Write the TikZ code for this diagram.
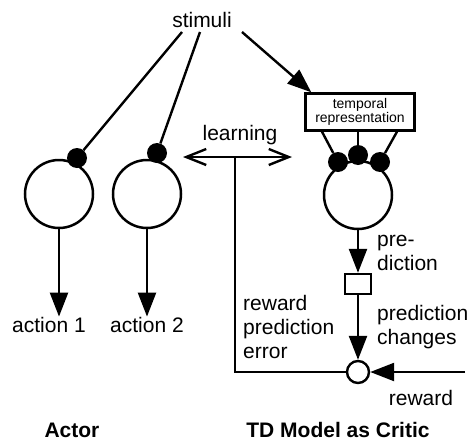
\documentclass[tikz,border=0pt]{standalone}
\usepackage{fontspec}
\setmainfont{Liberation Sans}
\usetikzlibrary{arrows.meta,positioning}
\tikzset{
  unit/.style={circle,draw,line width=2.5pt,fill=white,minimum size=68pt,inner sep=0pt},
  syn/.style={circle,fill=black,minimum size=20pt,inner sep=0pt},
  lbl/.style={inner sep=0pt,font=\fontsize{21}{24}\selectfont,align=left},
  head/.style={lbl,font=\fontsize{21}{24}\selectfont\bfseries},
  wire/.style={line width=2.4pt},
  feed/.style={wire,-{Triangle[length=24pt,width=18pt]}},
}

\begin{document}
\begin{tikzpicture}[x=1pt,y=-1pt]
  \fill[white] (0,0) rectangle (471,442);
  \useasboundingbox (0,0) rectangle (471,442);

  % inputs
  \node[lbl,anchor=base] (stim) at (202,27) {stimuli};
  \coordinate (s1) at (182,32);
  \coordinate (s2) at (200,32);
  \coordinate (s3) at (242,32);

  % actor units
  \node[unit] (a1) at (59,194) {};
  \node[unit] (a2) at (147,194) {};
  \node[syn] (d1) at (77,158) {};
  \node[syn] (d2) at (157,153) {};
  \draw[wire] (s1) -- (d1);
  \draw[wire] (s2) -- (d2);
  \node[lbl,anchor=base west] (act1) at (12,332) {action 1};
  \node[lbl,anchor=base west] (act2) at (110,332) {action 2};
  \draw[feed] (a1) -- (a1 |- act1.north);
  \draw[feed] (a2) -- (a2 |- act2.north);

  % critic
  \node[draw,line width=2.4pt,minimum width=109pt,minimum height=37pt,inner sep=0pt,
    align=center,font=\fontsize{14}{14}\selectfont] (trep) at (360,112) {temporal\\representation};
  \draw[feed] (s3) -- ([xshift=7pt]trep.north west);
  \node[unit] (cr) at (358,195) {};
  \node[syn] (t1) at (338,162) {};
  \node[syn] (t2) at (358,155) {};
  \node[syn] (t3) at (380,162) {};
  \draw[wire] ([xshift=-38pt]trep.south) -- (t1);
  \draw[wire] ([xshift=-2pt]trep.south) -- (t2);
  \draw[wire] ([xshift=37pt]trep.south) -- (t3);
  \node[draw,line width=2.4pt,fill=white,minimum width=26pt,minimum height=20pt,inner sep=0pt] (pch) at (358,284) {};
  \node[circle,draw,line width=2.4pt,fill=white,minimum size=22pt,inner sep=0pt] (err) at (358,372) {};
  \draw[feed] (cr) -- (pch);
  \draw[feed] (pch) -- (err);
  \coordinate (rwin) at (465,372);
  \draw[feed] (rwin) -- (err);

  % error feedback
  \coordinate (fb) at (235,157);
  \coordinate (la) at (183,157);
  \coordinate (lb) at (292,157);
  \draw[wire] (err) -| (fb);
  \draw[wire,{Straight Barb[length=20pt,width=16pt]}-{Straight Barb[length=20pt,width=16pt]}] (la) -- (lb);

  % labels (base = last line)
  \node[lbl,anchor=base] (lrn) at (240,140) {learning};
  \node[lbl,anchor=base west] (pred) at (377,270) {pre-\\diction};
  \node[lbl,anchor=base west] (pchg) at (377,344) {prediction\\changes};
  \node[lbl,anchor=base west] (rpe) at (243,358) {reward\\prediction\\error};
  \node[lbl,anchor=base] (rw) at (421,405) {reward};
  \node[head,anchor=base] (actor) at (72,437) {Actor};
  \node[head,anchor=base] (critic) at (338,437) {TD Model as Critic};
\end{tikzpicture}
\end{document}
